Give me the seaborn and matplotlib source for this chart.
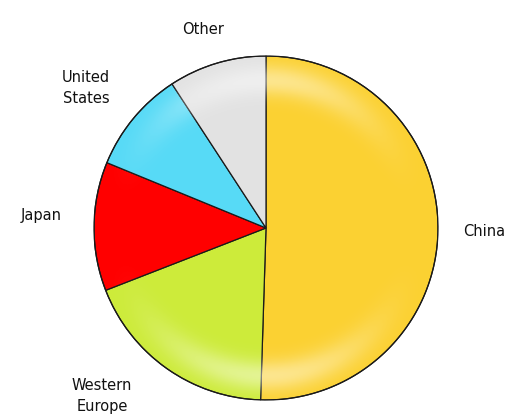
import numpy as np
import matplotlib
matplotlib.use("Agg")
import matplotlib.pyplot as plt
from matplotlib.patches import Circle
import seaborn as sns

# Share of total by region (percent)
regions = ["China", "Western\nEurope", "Japan", "United\nStates", "Other"]
shares = [50.5, 18.6, 12.1, 9.6, 9.2]
colors = ["#FBD132", "#CDEB3A", "#FF0000", "#57DAF6", "#E2E2E2"]

# Label offsets (polar: angle in degrees, distance in radii)
label_angle = [-1, 225.7, 176.7, 142.1, 107.6]
label_dist = [1.268, 1.365, 1.31, 1.326, 1.213]

sns.set_theme(style="white")
plt.rcParams["font.family"] = ["DejaVu Sans"]

fig = plt.figure(figsize=(5.17, 4.18), dpi=100)
fig.patch.set_facecolor("white")
cx, cy, r = 266, 228, 172
W, H = 517, 418
ax = fig.add_axes([(cx - r) / W, (H - cy - r) / H, 2 * r / W, 2 * r / H])

wedges, _ = ax.pie(shares, colors=colors, startangle=90, counterclock=False,
                   radius=1.0, center=(0, 0),
                   wedgeprops=dict(edgecolor="#1a1a1a", linewidth=0.9))
ax.set_xlim(-1, 1)
ax.set_ylim(-1, 1)
ax.set_aspect("equal")
ax.axis("off")

# Glassy highlight: a soft white band near the rim, mostly at top and bottom
n = 600
xs = np.linspace(-1, 1, n)
X, Y = np.meshgrid(xs, xs)
R = np.hypot(X, Y)
theta = np.arctan2(Y, X)
band = np.exp(-((R - 0.86) / 0.09) ** 2)
weight = np.abs(np.sin(theta)) ** 3
alpha = np.clip(band * weight * 0.45, 0, 1)
alpha[R > 1] = 0
rgba = np.ones((n, n, 4))
rgba[..., 3] = alpha
img = ax.imshow(rgba, extent=(-1, 1, -1, 1), origin="lower", zorder=3,
                interpolation="bilinear")
img.set_clip_path(Circle((0, 0), 1.0, transform=ax.transData))
ax.set_xlim(-1, 1)
ax.set_ylim(-1, 1)

for w in wedges:
    w.set_zorder(2)
ax.add_patch(Circle((0, 0), 1.0, fill=False, edgecolor="#1a1a1a",
                    linewidth=0.9, zorder=4))

for name, a, d in zip(regions, label_angle, label_dist):
    t = np.deg2rad(a)
    ax.text(d * np.cos(t), d * np.sin(t), name, ha="center", va="center",
            fontsize=10.5, color="#111111", linespacing=1.5, clip_on=False)

fig.savefig("out.png", dpi=100, facecolor="white")
